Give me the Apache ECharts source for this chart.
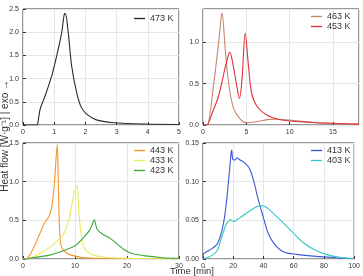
<!DOCTYPE html>
<html><head><meta charset="utf-8">
<script src="https://cdn.jsdelivr.net/npm/echarts@6/dist/echarts.min.js"></script>
<style>html,body{margin:0;padding:0;background:#fff}#c{width:363px;height:276px}</style>
</head><body><div id="c"></div>
<script>
// 473 K (panel a)
var t473 = [0, 0.45, 0.47, 0.55, 0.71, 0.92, 1.08, 1.24, 1.32, 1.36, 1.45, 1.56, 1.72, 1.87, 2.03, 2.35, 2.9, 3.9, 5];
var q473 = [0, 0, 0.02, 0.34, 0.63, 1.06, 1.49, 1.99, 2.38, 2.4, 1.99, 1.27, 0.7, 0.38, 0.24, 0.11, 0.05, 0.02, 0.01];
// 463 K & 453 K (panel b)
var t463 = [0, 0.46, 1.2, 1.8, 2.1, 2.2, 2.57, 2.95, 3.5, 4.3, 5, 6.2, 7.4, 8.3, 10, 12.7, 18];
var q463 = [0, 0, 0.47, 0.99, 1.3, 1.35, 0.91, 0.51, 0.21, 0.07, 0.025, 0.04, 0.065, 0.07, 0.06, 0.03, 0.01];
var t453 = [0, 0.46, 1.0, 1.8, 2.6, 3.1, 3.5, 3.9, 4.2, 4.5, 4.87, 5.25, 5.6, 6.2, 7.35, 8.9, 12.7, 18];
var q453 = [0, 0, 0.13, 0.35, 0.71, 0.88, 0.71, 0.47, 0.32, 0.55, 1.11, 0.71, 0.39, 0.23, 0.12, 0.064, 0.03, 0.01];
// 443 K, 433 K, 423 K (panel c)
var t443 = [0, 0.5, 1.3, 2.55, 3.5, 4.15, 5, 5.6, 6.06, 6.4, 6.6, 6.8, 7.0, 7.3, 8, 9.25, 11.5, 14.7, 30];
var q443 = [0, 0, 0.05, 0.22, 0.37, 0.47, 0.55, 0.7, 1.0, 1.34, 1.48, 0.95, 0.44, 0.18, 0.095, 0.05, 0.02, 0.01, 0.003];
var t433 = [0, 0.5, 1.9, 3.8, 5.7, 7.7, 8.6, 9.25, 9.9, 10.4, 10.7, 11.2, 11.8, 13.1, 15.3, 19.8, 30];
var q433 = [0, 0, 0.03, 0.095, 0.18, 0.31, 0.46, 0.65, 0.87, 0.95, 0.65, 0.31, 0.14, 0.06, 0.026, 0.01, 0.003];
var t423 = [0, 0.5, 1.9, 5.1, 8.3, 10.2, 11.8, 12.8, 13.4, 13.7, 14.2, 14.7, 15.6, 16.9, 18.2, 19.5, 21, 23.6, 26.8, 30];
var q423 = [0, 0, 0.017, 0.05, 0.12, 0.18, 0.29, 0.37, 0.46, 0.51, 0.39, 0.35, 0.31, 0.26, 0.19, 0.12, 0.07, 0.04, 0.017, 0.01];
// 413 K & 403 K (panel d)
var t413 = [0, 0.4, 2, 6.4, 9.6, 12.8, 15, 17, 18.6, 19, 19.7, 21.4, 22.5, 24.6, 27.8, 31, 33.8, 36.4, 39.6, 42.8, 47, 53.5, 62, 75, 88, 100];
var q413 = [0, 0.007, 0.009, 0.014, 0.02, 0.039, 0.065, 0.103, 0.137, 0.141, 0.129, 0.128, 0.131, 0.128, 0.124, 0.116, 0.099, 0.078, 0.056, 0.035, 0.02, 0.009, 0.006, 0.0034, 0.0017, 0.0004];
var t403 = [0, 0.4, 4.3, 7.5, 9.6, 12.8, 15.6, 17, 18.2, 19.3, 20.8, 22.5, 25.7, 30, 34, 38, 41.8, 47, 53.5, 60, 66.4, 72.8, 81.4, 92, 100];
var q403 = [0, 0, 0.003, 0.007, 0.0115, 0.031, 0.046, 0.049, 0.051, 0.049, 0.0486, 0.051, 0.055, 0.061, 0.066, 0.069, 0.067, 0.058, 0.046, 0.033, 0.021, 0.013, 0.006, 0.0017, 0.0004];

var names = ['473 K','463 K','453 K','443 K','433 K','423 K','413 K','403 K'];
var colors = ['#2b2b2b','#c8866a','#e0303a','#f5962e','#e6ec5a','#3aa838','#3c58d8','#34c6c8'];
var xs = [t473,t463,t453,t443,t433,t423,t413,t403];
var ys = [q473,q463,q453,q443,q433,q423,q413,q403];
var panel = [0,1,1,2,2,2,3,3];

var xMax = [5, 18, 30, 100], xInt = [1, 5, 10, 20];
var yMax = [2.5, 1.4, 1.5, 0.15], yInt = [0.5, 0.5, 0.5, 0.05], yDec = [1,1,1,2];
var gl = [23, 203, 23, 203], gt = [9, 9, 143, 143];

function pairs(a,b){ return a.map(function(v,i){return [v,b[i]];}); }
function onTick(m, s){ return Math.abs(m/s - Math.round(m/s)) < 1e-6; }

var grids=[], xAxes=[], yAxes=[], series=[], legends=[];
for (var p=0;p<4;p++){
  grids.push({left:gl[p], top:gt[p], width:156, height:116, show:true, borderColor:'#333', borderWidth:1, backgroundColor:'transparent'});
  xAxes.push({type:'value', gridIndex:p, min:0, max:xMax[p], interval:xInt[p],
    axisLine:{show:false}, axisTick:{inside:true,length:3,lineStyle:{color:'#333'}},
    axisLabel:{fontSize:7, color:'#333', margin:4, fontFamily:'Liberation Sans', showMaxLabel:onTick(xMax[p],xInt[p])},
    splitLine:{show:true, lineStyle:{color:'#e6e6e6', width:1}}});
  (function(d){
  yAxes.push({type:'value', gridIndex:p, min:0, max:yMax[p], interval:yInt[p],
    axisLine:{show:false}, axisTick:{inside:true,length:3,lineStyle:{color:'#333'}},
    axisLabel:{fontSize:7, color:'#333', margin:4, showMaxLabel:onTick(yMax[p],yInt[p]), fontFamily:'Liberation Sans',
      formatter:function(v){return v.toFixed(d);}},
    splitLine:{show:true, lineStyle:{color:'#e6e6e6', width:1}}});
  })(yDec[p]);
}
for (var i=0;i<8;i++){
  series.push({name:names[i], type:'line', xAxisIndex:panel[i], yAxisIndex:panel[i],
    data:pairs(xs[i],ys[i]), symbol:'none', smooth:0.3, lineStyle:{width:1.1, color:colors[i]}, itemStyle:{color:colors[i]}});
}
var legSets=[[names[0]],[names[1],names[2]],[names[3],names[4],names[5]],[names[6],names[7]]];
var legLeft=[134, 311, 134, 311], legTop=[14, 12, 146, 146];
for (var p=0;p<4;p++){
  legends.push({data:legSets[p], left:legLeft[p], top:legTop[p], orient:'vertical', itemGap:1,
    icon:'path://M0,0 L12,0 L12,1.5 L0,1.5 Z', itemWidth:11, itemHeight:9,
    textStyle:{fontSize:9, color:'#333', fontFamily:'Liberation Sans'}, padding:0, selectedMode:false});
}
var chart = echarts.init(document.getElementById('c'), null, {renderer:'canvas'});
chart.setOption({
  animation:false,
  grid:grids, xAxis:xAxes, yAxis:yAxes, series:series, legend:legends,
  graphic:[
    {type:'text', left:0, top:80, rotation:Math.PI/2, style:{text:'Heat flow [W·g⁻¹] | exo →', font:'10px "Liberation Sans"', fill:'#333'}},
    {type:'text', left:170, top:266, style:{text:'Time [min]', font:'9.5px "Liberation Sans"', fill:'#333'}}
  ]
});
</script></body></html>
